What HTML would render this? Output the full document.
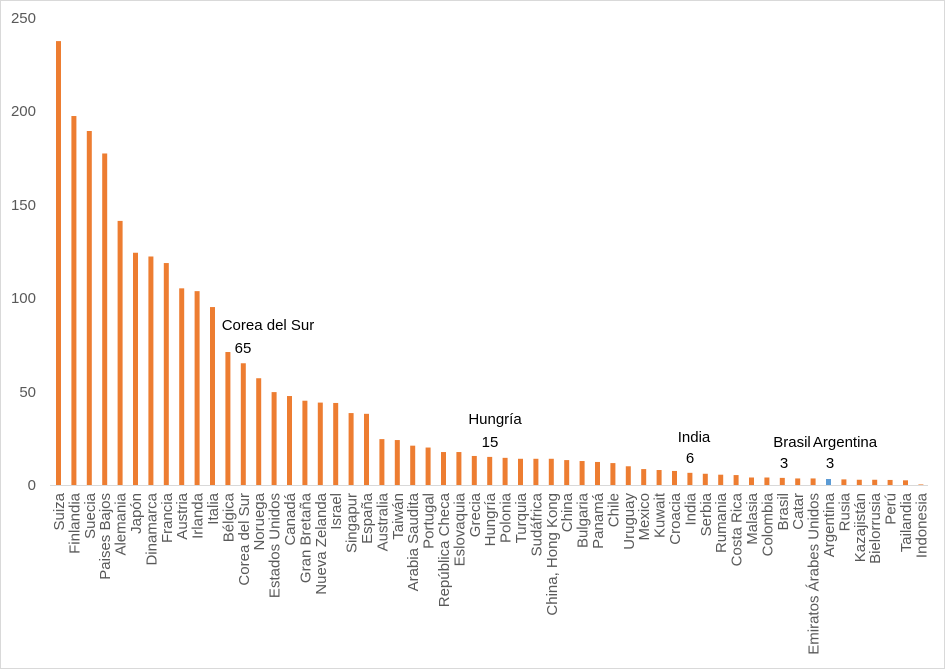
<!DOCTYPE html>
<html><head><meta charset="utf-8"><style>
body{margin:0;background:#fff}
svg{display:block;font-family:"Liberation Sans",sans-serif}
</style></head><body>
<svg width="945" height="669" viewBox="0 0 945 669">
<rect x="0.5" y="0.5" width="944" height="668" fill="#fff" stroke="#d9d9d9"/>
<g fill="#595959" font-size="15" text-anchor="end">
<text x="36" y="490">0</text><text x="36" y="397">50</text><text x="36" y="303">100</text>
<text x="36" y="210">150</text><text x="36" y="116">200</text><text x="36" y="23">250</text>
</g>
<line x1="50" y1="485.5" x2="928" y2="485.5" stroke="#d9d9d9"/>
<g id="bars"></g>
<g id="labels" fill="#595959" font-size="15"></g>
<g fill="#000" font-size="15" text-anchor="middle">
<text x="268" y="330">Corea del Sur</text><text x="243" y="353">65</text>
<text x="495" y="424">Hungría</text><text x="490" y="447">15</text>
<text x="694" y="442">India</text><text x="690" y="463">6</text>
<text x="792" y="447">Brasil</text><text x="784" y="468">3</text>
<text x="845" y="447">Argentina</text><text x="830" y="468">3</text>
</g>
</svg>
<script>
var d=[["Suiza",237],["Finlandia",197],["Suecia",189],["Paises Bajos",177],["Alemania",141],["Japón",124],["Dinamarca",122],["Francia",118.5],["Austria",105],["Irlanda",103.5],["Italia",95],["Bélgica",71],["Corea del Sur",65],["Noruega",57],["Estados Unidos",49.6],["Canadá",47.5],["Gran Bretaña",45],["Nueva Zelanda",44],["Israel",43.8],["Singapur",38.4],["España",38],["Australia",24.5],["Taiwán",24],["Arabia Saudita",21],["Portugal",20],["República Checa",17.6],["Eslovaquia",17.6],["Grecia",15.5],["Hungría",15],["Polonia",14.5],["Turquia",14],["Sudáfrica",14],["China, Hong Kong",14],["China",13.3],["Bulgaria",12.8],["Panamá",12.3],["Chile",11.7],["Uruguay",10],["Mexico",8.5],["Kuwait",8],["Croacia",7.5],["India",6.5],["Serbia",6],["Rumania",5.5],["Costa Rica",5.3],["Malasia",4],["Colombia",4],["Brasil",3.8],["Catar",3.5],["Emiratos Árabes Unidos",3.5],["Argentina",3.2],["Rusia",3],["Kazajistán",2.8],["Bielorrusia",2.8],["Perú",2.7],["Tailandia",2.5],["Indonesia",0.3]];
var ns="http://www.w3.org/2000/svg",b=document.getElementById("bars"),l=document.getElementById("labels");
d.forEach(function(e,i){var cx=58.5+i*15.4,h=e[1]*1.873;
var r=document.createElementNS(ns,"rect");r.setAttribute("x",cx-2.5);r.setAttribute("y",485-h);r.setAttribute("width",5);r.setAttribute("height",h);r.setAttribute("fill",e[0]=="Argentina"?"#5b9bd5":"#ed7d31");b.appendChild(r);
var t=document.createElementNS(ns,"text");t.setAttribute("transform","translate("+(cx+5.5)+",493) rotate(-90)");t.setAttribute("text-anchor","end");t.textContent=e[0];l.appendChild(t);});
</script>
</body></html>
